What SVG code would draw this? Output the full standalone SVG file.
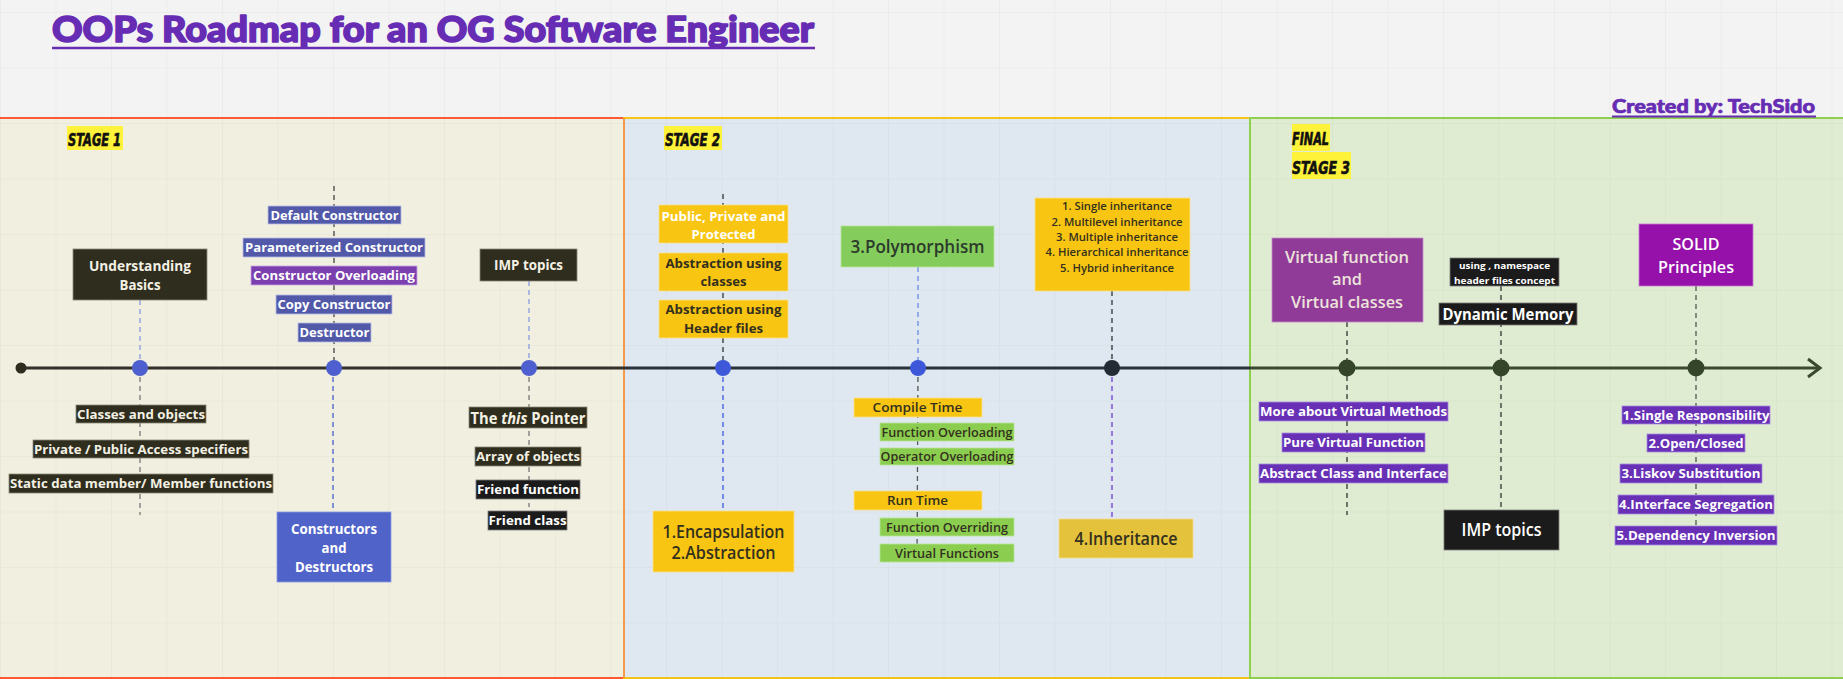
<svg xmlns="http://www.w3.org/2000/svg" width="1843" height="679" viewBox="0 0 1843 679">
<defs>
<pattern id="grid" width="55.5" height="55.5" patternUnits="userSpaceOnUse" x="0" y="12">
<path d="M0 0 V55.5 M0 0 H55.5" fill="none" stroke="#000" stroke-opacity="0.05" stroke-width="1"/>
</pattern>
<style>
text{font-family:"Open Sans","Noto Sans","DejaVu Sans",sans-serif;font-weight:700;text-anchor:middle}
.t{font-size:13px}
.lt{fill:#f3f1e4}
.wt{fill:#ffffff}
.dk{fill:#33301f}
.olive{fill:#2f2d1e;stroke:#8a8a78;stroke-width:0.8}
.blk{fill:#1b1b1b;stroke:#7d7d7d;stroke-width:0.8}
.bl{fill:#5159a8;stroke:#b9bde6;stroke-width:0.8}
.yl{fill:#f8c512;stroke:#fbe08a;stroke-width:0.8}
.gr{fill:#8bcd4e;stroke:#b8e49a;stroke-width:0.8}
.pu{fill:#6730b5;stroke:#a98be0;stroke-width:0.8}
.stg{font-family:"DejaVu Sans Condensed","DejaVu Sans",sans-serif;font-style:italic;font-weight:700;font-size:17px;fill:#111;stroke:#111;stroke-width:0.6;text-anchor:start}
.ttl{font-family:Lato,"Open Sans",sans-serif;font-weight:900;fill:#672cb4;stroke:#672cb4;stroke-linejoin:round;text-anchor:start}
.dash{fill:none;stroke-width:1.3;stroke-dasharray:5 4}
</style>
</defs>
<rect width="1843" height="679" fill="#f3f3f3"/>
<!-- stage panels -->
<g id="panels">
<rect x="-2" y="118" width="626" height="560" fill="#f1efdf" stroke="#ff5a33" stroke-width="2"/>
<rect x="624" y="118" width="626" height="560" fill="#dfe8f0" stroke="#f5c518" stroke-width="2"/>
<rect x="1250" y="118" width="600" height="560" fill="#dfecd2" stroke="#8fd14f" stroke-width="2"/>
<line x1="624" y1="118" x2="624" y2="678" stroke="#f59a4a" stroke-width="2"/>
</g>
<rect width="1843" height="679" fill="url(#grid)"/>
<!-- title -->
<g id="title">
<text class="ttl" x="52" y="42" style="font-size:36px;stroke-width:1.6" textLength="762" lengthAdjust="spacingAndGlyphs">OOPs Roadmap for an OG Software Engineer</text>
<line x1="52" y1="48" x2="815" y2="48" stroke="#672cb4" stroke-width="2.5"/>
</g>
<g id="credit">
<text class="ttl" x="1612" y="113" style="font-size:19px;stroke-width:0.7" textLength="203" lengthAdjust="spacingAndGlyphs">Created by: TechSido</text>
<line x1="1612" y1="116.5" x2="1816" y2="116.5" stroke="#672cb4" stroke-width="1.8"/>
</g>
<!-- stage labels -->
<g id="stage1-label"><rect x="67" y="126" width="56" height="24" fill="#fff23a"/><text class="stg" x="68" y="146" textLength="53" lengthAdjust="spacingAndGlyphs">STAGE 1</text></g>
<g id="stage2-label"><rect x="664" y="126" width="58" height="24" fill="#fff23a"/><text class="stg" x="665" y="146" textLength="55" lengthAdjust="spacingAndGlyphs">STAGE 2</text></g>
<g id="stage3-label"><rect x="1292" y="124" width="38" height="27" fill="#fff23a"/><rect x="1292" y="152" width="59" height="27" fill="#fff23a"/>
<text class="stg" x="1292" y="145" textLength="37" lengthAdjust="spacingAndGlyphs">FINAL</text>
<text class="stg" x="1292" y="174" textLength="58" lengthAdjust="spacingAndGlyphs">STAGE 3</text></g>
<!-- connectors -->
<g id="connectors">
<line x1="21" y1="368" x2="624" y2="368" stroke="#33302a" stroke-width="3"/>
<line x1="624" y1="368" x2="1250" y2="368" stroke="#2b3138" stroke-width="3"/>
<line x1="1250" y1="368" x2="1819" y2="368" stroke="#3a4a2e" stroke-width="3"/>
<polyline points="1808,359 1820,368 1808,377" fill="none" stroke="#3a4a2e" stroke-width="3" stroke-linejoin="miter"/>
<line class="dash" x1="140" y1="300" x2="140" y2="368" stroke="#8a9ae0"/>
<line class="dash" x1="140" y1="368" x2="140" y2="515" stroke="#777"/>
<line class="dash" x1="334" y1="186" x2="334" y2="368" stroke="#444"/>
<line class="dash" x1="333" y1="368" x2="333" y2="512" stroke="#4a5fd0"/>
<line class="dash" x1="529" y1="281" x2="529" y2="368" stroke="#8a9ae0"/>
<line class="dash" x1="529" y1="368" x2="529" y2="507" stroke="#777"/>
<line class="dash" x1="723" y1="194" x2="723" y2="368" stroke="#333"/>
<line class="dash" x1="723" y1="368" x2="723" y2="511" stroke="#3a5ae0"/>
<line class="dash" x1="918" y1="267" x2="918" y2="368" stroke="#6a8ae0"/>
<line class="dash" x1="918" y1="368" x2="917" y2="565" stroke="#555"/>
<line class="dash" x1="1112" y1="291" x2="1112" y2="368" stroke="#333"/>
<line class="dash" x1="1112" y1="368" x2="1112" y2="519" stroke="#6a3fd0"/>
<line class="dash" x1="1347" y1="322" x2="1347" y2="515" stroke="#333"/>
<line class="dash" x1="1501" y1="286" x2="1501" y2="508" stroke="#333"/>
<line class="dash" x1="1696" y1="286" x2="1696" y2="525" stroke="#555"/>
</g>
<!-- timeline dots -->
<g id="dots">
<circle cx="21" cy="368" r="5.5" fill="#2f2d1e"/>
<circle cx="140" cy="368" r="8" fill="#4e60d0"/>
<circle cx="334" cy="368" r="8" fill="#4e60d0"/>
<circle cx="529" cy="368" r="8" fill="#4e60d0"/>
<circle cx="723" cy="368" r="8" fill="#3d58d8"/>
<circle cx="918" cy="368" r="8" fill="#3d58d8"/>
<circle cx="1112" cy="368" r="8" fill="#222a33"/>
<circle cx="1347" cy="368" r="8.5" fill="#35452a"/>
<circle cx="1501" cy="368" r="8.5" fill="#35452a"/>
<circle cx="1696" cy="368" r="8.5" fill="#35452a"/>
</g>
<!-- STAGE 1 nodes -->
<g id="n-understanding"><rect class="olive" x="73" y="249" width="134" height="51"/><text class="lt" style="font-size:14.5px" x="140" y="271" textLength="102" lengthAdjust="spacingAndGlyphs">Understanding</text><text class="lt" style="font-size:14.5px" x="140" y="290" textLength="41" lengthAdjust="spacingAndGlyphs">Basics</text></g>
<g id="n-default"><rect class="bl" x="268" y="206" width="133" height="18"/><text class="t wt" x="334.5" y="219.5" textLength="128" lengthAdjust="spacingAndGlyphs">Default Constructor</text></g>
<g id="n-param"><rect class="bl" x="243" y="238" width="182" height="19"/><text class="t wt" x="334" y="252" textLength="178" lengthAdjust="spacingAndGlyphs">Parameterized Constructor</text></g>
<g id="n-overload"><rect x="251" y="266" width="166" height="19" fill="#7b3fae" stroke="#c9a7e6" stroke-width="0.8"/><text class="t wt" x="334" y="280" textLength="162" lengthAdjust="spacingAndGlyphs">Constructor Overloading</text></g>
<g id="n-copy"><rect class="bl" x="276" y="295" width="116" height="19"/><text class="t wt" x="334" y="309" textLength="113" lengthAdjust="spacingAndGlyphs">Copy Constructor</text></g>
<g id="n-destructor"><rect class="bl" x="298" y="323" width="73" height="19"/><text class="t wt" x="334.5" y="337" textLength="70" lengthAdjust="spacingAndGlyphs">Destructor</text></g>
<g id="n-imp1"><rect class="olive" x="480" y="249" width="97" height="32"/><text class="lt" style="font-size:15px" x="528.5" y="270" textLength="69" lengthAdjust="spacingAndGlyphs">IMP topics</text></g>
<g id="n-classes"><rect class="olive" x="76" y="405" width="130" height="18"/><text class="t lt" x="141" y="418.5" textLength="128" lengthAdjust="spacingAndGlyphs">Classes and objects</text></g>
<g id="n-private"><rect class="olive" x="33" y="440" width="216" height="18"/><text class="t lt" x="141" y="453.5" textLength="214" lengthAdjust="spacingAndGlyphs">Private / Public Access specifiers</text></g>
<g id="n-static"><rect class="olive" x="9" y="474" width="264" height="19"/><text class="t lt" x="141" y="488" textLength="262" lengthAdjust="spacingAndGlyphs">Static data member/ Member functions</text></g>
<g id="n-ctors"><rect x="277" y="512" width="114" height="70" fill="#5063c9" stroke="#8c9be6" stroke-width="0.8"/><text class="wt" style="font-size:15px" x="334" y="534" textLength="86" lengthAdjust="spacingAndGlyphs">Constructors</text><text class="wt" style="font-size:15px" x="334" y="552.5" textLength="25" lengthAdjust="spacingAndGlyphs">and</text><text class="wt" style="font-size:15px" x="334" y="572" textLength="78" lengthAdjust="spacingAndGlyphs">Destructors</text></g>
<g id="n-this"><rect class="olive" x="469" y="407" width="118" height="21"/><text class="lt" style="font-size:16px" x="528" y="423.5" textLength="115" lengthAdjust="spacingAndGlyphs">The <tspan font-style="italic">this</tspan> Pointer</text></g>
<g id="n-array"><rect class="olive" x="475" y="447" width="106" height="19"/><text class="t lt" x="528" y="461" textLength="104" lengthAdjust="spacingAndGlyphs">Array of objects</text></g>
<g id="n-friendfn"><rect class="blk" x="476" y="480" width="104" height="19"/><text class="t wt" x="528" y="494" textLength="102" lengthAdjust="spacingAndGlyphs">Friend function</text></g>
<g id="n-friendcls"><rect class="blk" x="488" y="511" width="79" height="19"/><text class="t wt" x="527.5" y="525" textLength="78" lengthAdjust="spacingAndGlyphs">Friend class</text></g>
<!-- STAGE 2 nodes -->
<g id="n-ppp"><rect class="yl" x="659" y="205" width="129" height="38"/><text class="t wt" x="723.5" y="220.5" textLength="124" lengthAdjust="spacingAndGlyphs">Public, Private and</text><text class="t wt" x="723.5" y="238.5" textLength="64" lengthAdjust="spacingAndGlyphs">Protected</text></g>
<g id="n-abs-classes"><rect class="yl" x="659" y="253" width="129" height="38"/><text class="t dk" x="723.5" y="267.5" textLength="116" lengthAdjust="spacingAndGlyphs">Abstraction using</text><text class="t dk" x="723.5" y="286" textLength="46" lengthAdjust="spacingAndGlyphs">classes</text></g>
<g id="n-abs-header"><rect class="yl" x="659" y="300" width="129" height="38"/><text class="t dk" x="723.5" y="314" textLength="116" lengthAdjust="spacingAndGlyphs">Abstraction using</text><text class="t dk" x="723.5" y="333" textLength="79" lengthAdjust="spacingAndGlyphs">Header files</text></g>
<g id="n-poly"><rect x="841" y="226" width="153" height="41" fill="#84cc5c" stroke="#b8e49a" stroke-width="0.8"/><text style="font-size:18px;fill:#2c3a2c;font-weight:600" x="917.5" y="253" textLength="134" lengthAdjust="spacingAndGlyphs">3.Polymorphism</text></g>
<g id="n-inhlist"><rect class="yl" x="1035" y="198" width="155" height="93"/>
<text class="dk" style="font-size:11.5px;font-weight:600" x="1117" y="210" textLength="110" lengthAdjust="spacingAndGlyphs">1. Single inheritance</text>
<text class="dk" style="font-size:11.5px;font-weight:600" x="1117" y="225.5" textLength="131" lengthAdjust="spacingAndGlyphs">2. Multilevel inheritance</text>
<text class="dk" style="font-size:11.5px;font-weight:600" x="1117" y="241" textLength="122" lengthAdjust="spacingAndGlyphs">3. Multiple inheritance</text>
<text class="dk" style="font-size:11.5px;font-weight:600" x="1117" y="256" textLength="143" lengthAdjust="spacingAndGlyphs">4. Hierarchical inheritance</text>
<text class="dk" style="font-size:11.5px;font-weight:600" x="1117" y="272" textLength="114" lengthAdjust="spacingAndGlyphs">5. Hybrid inheritance</text></g>
<g id="n-encap"><rect class="yl" x="653" y="511" width="141" height="61"/><text class="dk" style="font-size:18px;font-weight:600" x="723.5" y="537.5" textLength="122" lengthAdjust="spacingAndGlyphs">1.Encapsulation</text><text class="dk" style="font-size:18px;font-weight:600" x="723.5" y="558.5" textLength="104" lengthAdjust="spacingAndGlyphs">2.Abstraction</text></g>
<g id="n-compile"><rect class="yl" x="854" y="398" width="128" height="19"/><text class="dk" style="font-size:12.5px;font-weight:600" x="917.5" y="412" textLength="90" lengthAdjust="spacingAndGlyphs">Compile Time</text></g>
<g id="n-fover"><rect class="gr" x="880" y="423" width="134" height="18"/><text class="dk" style="font-size:12px;font-weight:600" x="947" y="436.5" textLength="131" lengthAdjust="spacingAndGlyphs">Function Overloading</text></g>
<g id="n-opover"><rect class="gr" x="880" y="448" width="134" height="17"/><text class="dk" style="font-size:12px;font-weight:600" x="947" y="461" textLength="133" lengthAdjust="spacingAndGlyphs">Operator Overloading</text></g>
<g id="n-run"><rect class="yl" x="854" y="491" width="128" height="19"/><text class="dk" style="font-size:12.5px;font-weight:600" x="917.5" y="505" textLength="61" lengthAdjust="spacingAndGlyphs">Run Time</text></g>
<g id="n-foverride"><rect class="gr" x="880" y="518" width="134" height="18"/><text class="dk" style="font-size:12px;font-weight:600" x="947" y="531.5" textLength="122" lengthAdjust="spacingAndGlyphs">Function Overriding</text></g>
<g id="n-virtfn"><rect class="gr" x="880" y="544" width="134" height="18"/><text class="dk" style="font-size:12px;font-weight:600" x="947" y="557.5" textLength="104" lengthAdjust="spacingAndGlyphs">Virtual Functions</text></g>
<g id="n-inherit"><rect x="1059" y="519" width="134" height="39" fill="#e4c23b" stroke="#f0dc8a" stroke-width="0.8"/><text class="dk" style="font-size:18px;font-weight:600" x="1126" y="545" textLength="103" lengthAdjust="spacingAndGlyphs">4.Inheritance</text></g>
<!-- STAGE 3 nodes -->
<g id="n-virtual"><rect x="1272" y="238" width="151" height="84" fill="#913b99" stroke="#c48ac9" stroke-width="0.8"/>
<text style="font-size:17px;fill:#ece4da;font-weight:600" x="1347" y="263" textLength="124" lengthAdjust="spacingAndGlyphs">Virtual function</text>
<text style="font-size:17px;fill:#ece4da;font-weight:600" x="1347" y="285" textLength="30" lengthAdjust="spacingAndGlyphs">and</text>
<text style="font-size:17px;fill:#ece4da;font-weight:600" x="1347" y="308" textLength="112" lengthAdjust="spacingAndGlyphs">Virtual classes</text></g>
<g id="n-using"><rect class="blk" x="1450" y="258" width="109" height="28"/><text class="wt" style="font-size:9.5px" x="1504.5" y="268.5" textLength="91" lengthAdjust="spacingAndGlyphs">using , namespace</text><text class="wt" style="font-size:9.5px" x="1504.5" y="283.5" textLength="101" lengthAdjust="spacingAndGlyphs">header files concept</text></g>
<g id="n-dynmem"><rect class="blk" x="1439" y="303" width="138" height="22"/><text class="wt" style="font-size:15.5px" x="1508" y="319.5" textLength="131" lengthAdjust="spacingAndGlyphs">Dynamic Memory</text></g>
<g id="n-solid"><rect x="1639" y="224" width="114" height="62" fill="#9511a9" stroke="#c77ad3" stroke-width="0.8"/><text class="wt" style="font-size:17px;font-weight:600" x="1696" y="250" textLength="47" lengthAdjust="spacingAndGlyphs">SOLID</text><text class="wt" style="font-size:17px;font-weight:600" x="1696" y="273" textLength="76" lengthAdjust="spacingAndGlyphs">Principles</text></g>
<g id="n-morevirt"><rect class="pu" x="1259" y="402" width="189" height="19"/><text class="t wt" x="1353.5" y="416" textLength="187" lengthAdjust="spacingAndGlyphs">More about Virtual Methods</text></g>
<g id="n-purevirt"><rect class="pu" x="1282" y="433" width="143" height="19"/><text class="t wt" x="1353.5" y="447" textLength="141" lengthAdjust="spacingAndGlyphs">Pure Virtual Function</text></g>
<g id="n-abstract"><rect class="pu" x="1259" y="464" width="189" height="19"/><text class="t wt" x="1353.5" y="478" textLength="187" lengthAdjust="spacingAndGlyphs">Abstract Class and Interface</text></g>
<g id="n-imp2"><rect class="blk" x="1444" y="510" width="115" height="40"/><text class="wt" style="font-size:18px;font-weight:600" x="1501.5" y="536" textLength="80" lengthAdjust="spacingAndGlyphs">IMP topics</text></g>
<g id="n-srp"><rect class="pu" x="1622" y="406" width="148" height="18"/><text class="t wt" x="1696" y="420" textLength="147" lengthAdjust="spacingAndGlyphs">1.Single Responsibility</text></g>
<g id="n-ocp"><rect class="pu" x="1647" y="434" width="98" height="18"/><text class="t wt" x="1696" y="448" textLength="95" lengthAdjust="spacingAndGlyphs">2.Open/Closed</text></g>
<g id="n-lsp"><rect class="pu" x="1620" y="464" width="142" height="19"/><text class="t wt" x="1691" y="478" textLength="139" lengthAdjust="spacingAndGlyphs">3.Liskov Substitution</text></g>
<g id="n-isp"><rect class="pu" x="1618" y="495" width="156" height="19"/><text class="t wt" x="1696" y="509" textLength="154" lengthAdjust="spacingAndGlyphs">4.Interface Segregation</text></g>
<g id="n-dip"><rect class="pu" x="1615" y="526" width="162" height="19"/><text class="t wt" x="1696" y="540" textLength="159" lengthAdjust="spacingAndGlyphs">5.Dependency Inversion</text></g>
</svg>
